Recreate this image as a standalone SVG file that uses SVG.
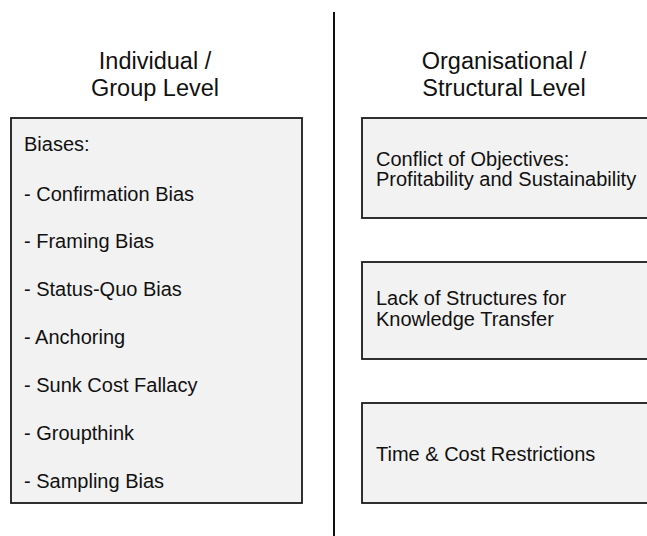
<svg xmlns="http://www.w3.org/2000/svg" width="647" height="536" viewBox="0 0 647 536">
  <style>
    .box { fill: #f2f2f2; stroke: #1a1a1a; stroke-width: 1.8; }
    .head { font-family: "Liberation Sans", Arial, sans-serif; font-size: 23.5px; fill: #111; text-anchor: middle; }
    .body { font-family: "Liberation Sans", Arial, sans-serif; font-size: 20px; fill: #111; }
    .divider { stroke: #111; stroke-width: 2; }
  </style>
  <rect width="647" height="536" fill="#ffffff"/>

  <!-- column divider -->
  <g id="connectors">
    <line class="divider" x1="334" y1="12" x2="334" y2="536"/>
  </g>

  <!-- column headings -->
  <g id="heading-individual">
    <text class="head" x="155" y="69">Individual /</text>
    <text class="head" x="155" y="96">Group Level</text>
  </g>
  <g id="heading-organisational">
    <text class="head" x="504" y="69">Organisational /</text>
    <text class="head" x="504" y="96">Structural Level</text>
  </g>

  <!-- individual level: list of biases -->
  <g id="biases">
    <rect class="box" x="11" y="118" width="291" height="385"/>
    <text class="body" x="24" y="151">Biases:</text>
    <text class="body" x="24" y="201">- Confirmation Bias</text>
    <text class="body" x="24" y="248">- Framing Bias</text>
    <text class="body" x="24" y="296">- Status-Quo Bias</text>
    <text class="body" x="24" y="344">- Anchoring</text>
    <text class="body" x="24" y="392">- Sunk Cost Fallacy</text>
    <text class="body" x="24" y="440">- Groupthink</text>
    <text class="body" x="24" y="488">- Sampling Bias</text>
  </g>

  <!-- organisational level -->
  <g id="conflict-of-objectives">
    <rect class="box" x="362" y="118" width="300" height="100"/>
    <text class="body" x="376" y="166">Conflict of Objectives:</text>
    <text class="body" x="376" y="186">Profitability and Sustainability</text>
  </g>
  <g id="knowledge-transfer">
    <rect class="box" x="362" y="262" width="300" height="97"/>
    <text class="body" x="376" y="305">Lack of Structures for</text>
    <text class="body" x="376" y="326">Knowledge Transfer</text>
  </g>
  <g id="time-cost">
    <rect class="box" x="362" y="403" width="300" height="100"/>
    <text class="body" x="376" y="461">Time &amp; Cost Restrictions</text>
  </g>
</svg>
